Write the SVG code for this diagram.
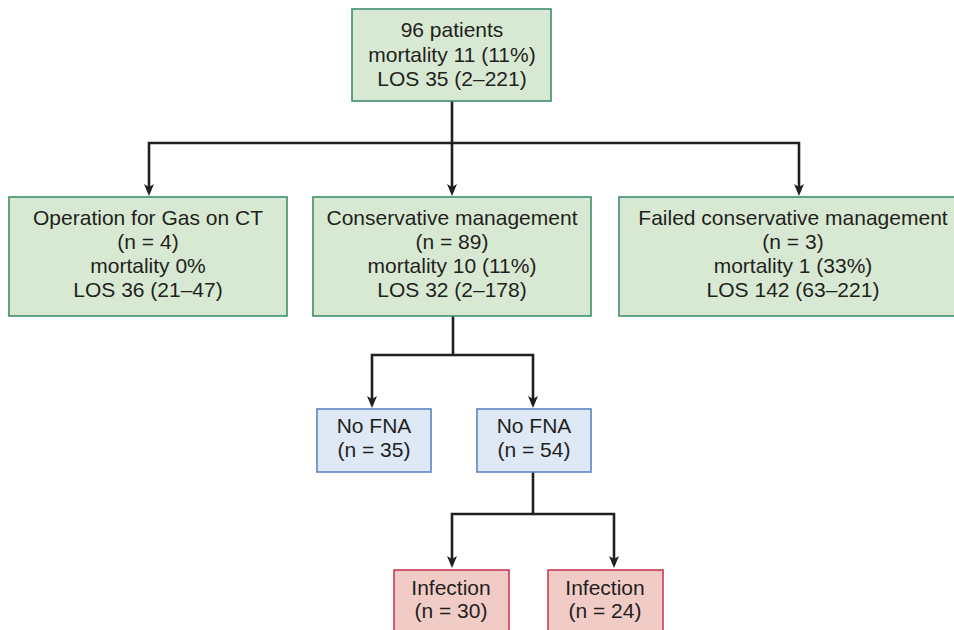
<svg xmlns="http://www.w3.org/2000/svg" width="954" height="630" viewBox="0 0 954 630">
<defs>
<marker id="arr" viewBox="0 0 12 12" markerUnits="userSpaceOnUse" markerWidth="12" markerHeight="12" refX="8" refY="6" orient="auto">
<path d="M0,1 L12,6 L0,11 L3,6 z" fill="#231f20"/>
</marker>
</defs>
<style>
text{font-family:"Liberation Sans",Arial,sans-serif;font-size:21px;fill:#231f20;text-anchor:middle}
.g{fill:#d8e9d3;stroke:#3f8f6e;stroke-width:1.6}
.b{fill:#dfe9f5;stroke:#5a86c5;stroke-width:1.6}
.r{fill:#f1cbc6;stroke:#c73a5b;stroke-width:1.6}
.c{fill:none;stroke:#231f20;stroke-width:2.6;stroke-linejoin:miter}
</style>
<rect width="954" height="630" fill="#ffffff"/>
<g id="connectors">
<path class="c" d="M452,101 V143 H149 V192" marker-end="url(#arr)"/>
<path class="c" d="M452,143 V192" marker-end="url(#arr)"/>
<path class="c" d="M452,143 H799 V192" marker-end="url(#arr)"/>
<path class="c" d="M453,316 V355 H372 V404" marker-end="url(#arr)"/>
<path class="c" d="M453,355 H533 V404" marker-end="url(#arr)"/>
<path class="c" d="M533,472 V514 H452 V564" marker-end="url(#arr)"/>
<path class="c" d="M533,514 H614 V564" marker-end="url(#arr)"/>
</g>
<g id="n-all">
<rect class="g" x="352" y="9" width="199" height="92"/>
<text x="452" y="37">96 patients</text>
<text x="452" y="62">mortality 11 (11%)</text>
<text x="452" y="86">LOS 35 (2–221)</text>
</g>
<g id="n-op">
<rect class="g" x="9" y="197" width="278" height="119"/>
<text x="148" y="225">Operation for Gas on CT</text>
<text x="148" y="249">(n = 4)</text>
<text x="148" y="273">mortality 0%</text>
<text x="148" y="297">LOS 36 (21–47)</text>
</g>
<g id="n-cons">
<rect class="g" x="313" y="197" width="278" height="119"/>
<text x="452" y="225">Conservative management</text>
<text x="452" y="249">(n = 89)</text>
<text x="452" y="273">mortality 10 (11%)</text>
<text x="452" y="297">LOS 32 (2–178)</text>
</g>
<g id="n-failed">
<rect class="g" x="619" y="197" width="350" height="119"/>
<text x="793" y="225">Failed conservative management</text>
<text x="793" y="249">(n = 3)</text>
<text x="793" y="273">mortality 1 (33%)</text>
<text x="793" y="297">LOS 142 (63–221)</text>
</g>
<g id="n-fna35">
<rect class="b" x="317" y="409" width="114" height="63"/>
<text x="374" y="433">No FNA</text>
<text x="374" y="457">(n = 35)</text>
</g>
<g id="n-fna54">
<rect class="b" x="477" y="409" width="114" height="63"/>
<text x="534" y="433">No FNA</text>
<text x="534" y="457">(n = 54)</text>
</g>
<g id="n-inf30">
<rect class="r" x="394" y="570" width="115" height="70"/>
<text x="451" y="595">Infection</text>
<text x="451" y="618">(n = 30)</text>
</g>
<g id="n-inf24">
<rect class="r" x="548" y="570" width="115" height="70"/>
<text x="605" y="595">Infection</text>
<text x="605" y="618">(n = 24)</text>
</g>
</svg>
